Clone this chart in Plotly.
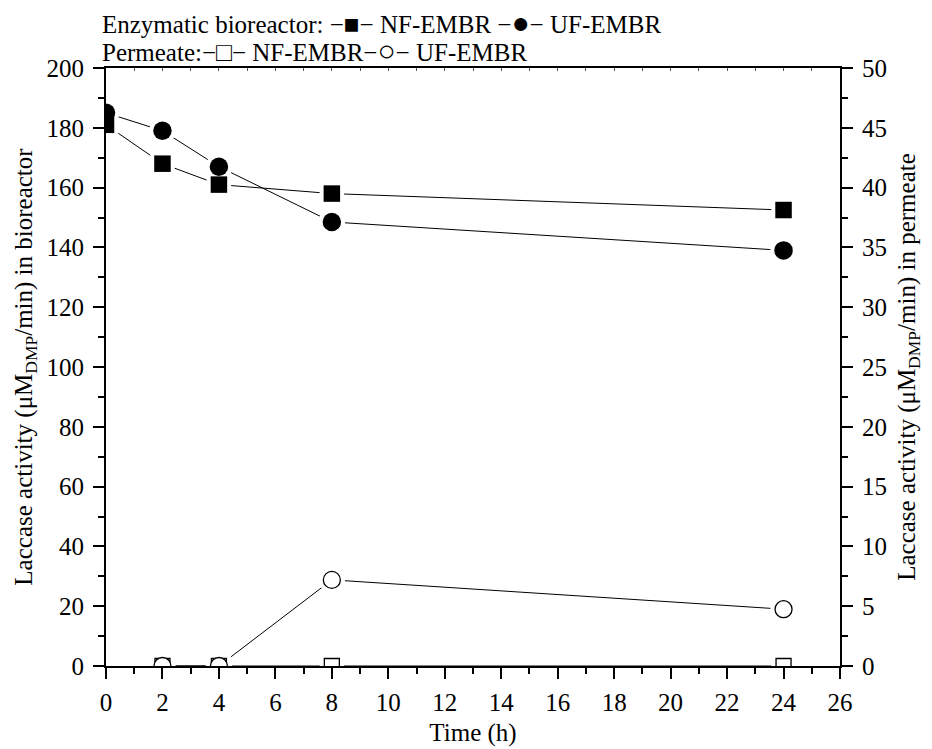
import plotly.graph_objects as go

time_h = [0, 2, 4, 8, 24]
nf_bioreactor = [181, 168, 161, 158, 152.5]
uf_bioreactor = [185, 179, 167, 148.5, 139]

time_perm = [2, 4, 8, 24]
nf_permeate = [0, 0, 0, 0]
uf_permeate = [0, 0, 7.2, 4.75]

FONT = "Liberation Serif"
FS = 25
W, H = 932, 749
# page has an 8px body offset; plot area target in page px: x 106..840, y 68..666
L, T = 98, 60
R, B = 932 - (840 - 8), 749 - (666 - 8)
pw, ph = W - L - R, H - T - B
GAP = 4

series = [
    dict(x=time_h, y=nf_bioreactor, yaxis="y", sym="square", size=16.5, fill="black", lw=0),
    dict(x=time_h, y=uf_bioreactor, yaxis="y", sym="circle", size=18.5, fill="black", lw=0),
    dict(x=time_perm, y=nf_permeate, yaxis="y2", sym="square", size=15, fill="white", lw=1.3),
    dict(x=time_perm, y=uf_permeate, yaxis="y2", sym="circle", size=17, fill="white", lw=1.3),
]

fig = go.Figure()
# connecting lines
for s in series:
    fig.add_trace(go.Scatter(x=s["x"], y=s["y"], yaxis=s["yaxis"], mode="lines",
                             line=dict(color="black", width=1), hoverinfo="skip"))
# white halos giving the small gap between lines and symbols
for s in series:
    fig.add_trace(go.Scatter(x=s["x"], y=s["y"], yaxis=s["yaxis"], mode="markers",
                             marker=dict(symbol=s["sym"], size=s["size"] + s["lw"] + 2 * GAP,
                                         color="white", line=dict(width=0)), hoverinfo="skip"))
# symbols
for s in series:
    fig.add_trace(go.Scatter(x=s["x"], y=s["y"], yaxis=s["yaxis"], mode="markers",
                             marker=dict(symbol=s["sym"], size=s["size"], color=s["fill"],
                                         line=dict(color="black", width=s["lw"]))))

axcommon = dict(showgrid=False, zeroline=False, showline=True, linecolor="black", linewidth=2,
                ticks="outside", ticklen=11, tickwidth=2, tickcolor="black", automargin=False,
                tickfont=dict(family=FONT, size=FS, color="black"))
minor_common = dict(ticks="outside", ticklen=6, tickwidth=1.5, tickcolor="black")

fig.update_layout(
    width=W, height=H, margin=dict(l=L, r=R, t=T, b=B),
    paper_bgcolor="white", plot_bgcolor="white", showlegend=False,
    font=dict(family=FONT, size=FS, color="black"),
    xaxis=dict(range=[0, 26], dtick=2, tick0=0, minor=dict(dtick=1, **minor_common),
               ticklabelstandoff=2,
               title=dict(text="Time (h)", font=dict(family=FONT, size=FS), standoff=8),
               **axcommon),
    xaxis2=dict(range=[0, 26], overlaying="x", side="top", showgrid=False, zeroline=False,
                showline=True, linecolor="black", linewidth=2, ticks="inside", ticklen=3,
                tickwidth=1, tickcolor="#555", dtick=1, showticklabels=False),
    yaxis=dict(range=[0, 200], dtick=20, minor=dict(dtick=10, **minor_common),
               ticklabelstandoff=4,
               title=dict(text="Laccase activity (μM<sub>DMP</sub>/min) in bioreactor",
                          font=dict(family=FONT, size=FS), standoff=7),
               **axcommon),
    yaxis2=dict(range=[0, 50], dtick=5, overlaying="y", side="right",
                minor=dict(dtick=2.5, **minor_common), ticklabelstandoff=4,
                title=dict(text="Laccase activity (μM<sub>DMP</sub>/min) in permeate",
                           font=dict(family=FONT, size=FS), standoff=11),
                **axcommon),
)
# dummy trace to activate top axis
fig.add_trace(go.Scatter(x=[0], y=[None], xaxis="x2", showlegend=False, hoverinfo="skip"))

sym = lambda s, k=1.0: f"<span style='font-size:{FS*k:.1f}px'>{s}</span>"
fig.add_annotation(xref="paper", yref="paper", x=-6 / pw, y=1 + 45 / ph, xanchor="left",
                   yanchor="middle", showarrow=False,
                   text=f"Enzymatic bioreactor: −{sym('■', 1.05)}− NF-EMBR −{sym('●', 1.2)}− UF-EMBR",
                   font=dict(family=FONT, size=FS, color="black"))
fig.add_annotation(xref="paper", yref="paper", x=-6 / pw, y=1 + 17 / ph, xanchor="left",
                   yanchor="middle", showarrow=False,
                   text=f"Permeate:−{sym('□', 1.05)}− NF-EMBR−{sym('○', 1.2)}− UF-EMBR",
                   font=dict(family=FONT, size=FS, color="black"))

fig.write_html("out.html")
